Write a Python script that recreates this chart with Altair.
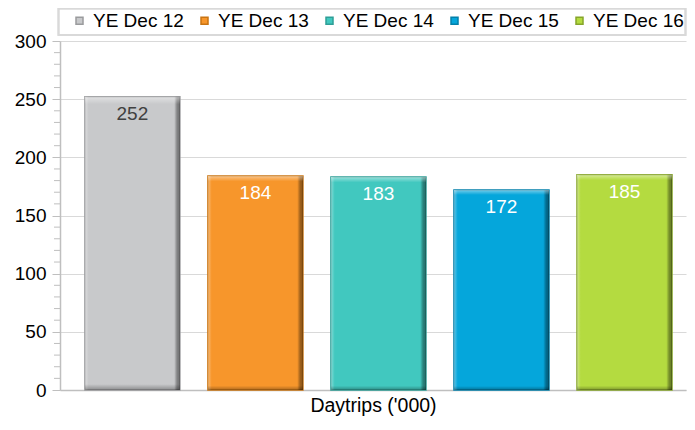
import altair as alt
import pandas as pd

periods = ["YE Dec 12", "YE Dec 13", "YE Dec 14", "YE Dec 15", "YE Dec 16"]
values = [252, 184, 183, 172, 185]
fill_colors = ["#C8C9CB", "#F7962B", "#41C8BF", "#05A6DB", "#B4DB40"]
edge_colors = ["#9A9B9D", "#C97412", "#2E9E97", "#0380AA", "#86A52A"]
major_ticks = [0, 50, 100, 150, 200, 250, 300]
minor_ticks = [v for v in range(0, 301, 10) if v % 50 != 0]

df = pd.DataFrame({"period": periods, "value": values})
minor_df = pd.DataFrame({"tick": minor_ticks})

FONT = "Liberation Sans"
FS = 19

x_enc = alt.X(
    "period:N",
    sort=periods,
    scale=alt.Scale(paddingInner=0.2276, paddingOuter=0.158, align=0.64),
    axis=alt.Axis(
        labels=False, ticks=False, title="Daytrips ('000)",
        titleFont=FONT, titleFontSize=19.5, titleFontWeight="normal",
        titleColor="#000000", titlePadding=6,
        domainColor="#BFBFBF", domainWidth=1.5,
    ),
)

y_enc = alt.Y(
    "value:Q",
    scale=alt.Scale(domain=[0, 300], nice=False),
    axis=alt.Axis(
        title=None,
        values=major_ticks,
        labelOverlap=False,
        labelFont=FONT, labelFontSize=FS, labelColor="#000000",
        labelPadding=6,
        tickSize=8,
        tickColor="#BFBFBF",
        gridColor="#D9D9D9",
        domainColor="#BFBFBF", domainWidth=1.5,
    ),
)

bars = alt.Chart(df).mark_bar(strokeWidth=1.5).encode(
    x=x_enc,
    y=y_enc,
    fill=alt.Fill(
        "period:N",
        sort=periods,
        scale=alt.Scale(domain=periods, range=fill_colors),
        legend=alt.Legend(
            title=None, orient="none", direction="horizontal", columns=5,
            legendX=10, legendY=-30, padding=0,
            symbolType="square", symbolSize=49, symbolStrokeWidth=1.5,
            labelFont=FONT, labelFontSize=FS, labelColor="#000000",
            labelOffset=4, columnPadding=11,
        ),
    ),
    stroke=alt.Stroke(
        "period:N",
        scale=alt.Scale(domain=periods, range=edge_colors),
        legend=None,
    ),
)

side_shade = alt.Chart(df).mark_bar(
    fill=alt.LinearGradient(
        gradient="linear", x1=0, x2=1, y1=0, y2=0,
        stops=[
            alt.GradientStop(color="rgba(255,255,255,0.35)", offset=0),
            alt.GradientStop(color="rgba(255,255,255,0)", offset=0.04),
            alt.GradientStop(color="rgba(0,0,0,0)", offset=0.94),
            alt.GradientStop(color="rgba(0,0,0,0.35)", offset=0.97),
            alt.GradientStop(color="rgba(0,0,0,0.45)", offset=1),
        ],
    )
).encode(x=alt.X("period:N", sort=periods), y=alt.Y("value:Q"))

top_shade = alt.Chart(df).mark_bar(
    fill=alt.LinearGradient(
        gradient="linear", x1=0, x2=0, y1=0, y2=1,
        stops=[
            alt.GradientStop(color="rgba(255,255,255,0.45)", offset=0),
            alt.GradientStop(color="rgba(255,255,255,0)", offset=0.025),
            alt.GradientStop(color="rgba(0,0,0,0)", offset=0.98),
            alt.GradientStop(color="rgba(0,0,0,0.3)", offset=1),
        ],
    )
).encode(x=alt.X("period:N", sort=periods), y=alt.Y("value:Q"))

labels = alt.Chart(df).mark_text(
    baseline="middle", dy=17, font=FONT, fontSize=19
).encode(
    x=alt.X("period:N", sort=periods),
    y=alt.Y("value:Q"),
    text=alt.Text("value:Q"),
    color=alt.condition(alt.datum.period == "YE Dec 12", alt.value("#404040"), alt.value("#FFFFFF")),
)

minor = alt.Chart(minor_df).mark_rule(color="#BFBFBF", strokeWidth=1).encode(
    x=alt.value(-6), x2=alt.value(0), y=alt.Y("tick:Q")
)

legend_box = alt.Chart(df).mark_rect(
    fill=None, stroke="#D9D9D9", strokeWidth=1.5
).encode(
    x=alt.value(-1.5), x2=alt.value(625.5), y=alt.value(-32.5), y2=alt.value(-6)
)

chart = alt.layer(legend_box, minor, bars, side_shade, top_shade, labels).properties(
    width=626,
    height=349,
    padding={"left": 52, "top": 33, "right": 1, "bottom": 27},
    autosize=alt.AutoSizeParams(type="none"),
).configure_view(stroke=None)

chart.save("out.html", embed_options={"renderer": "svg", "actions": False})
